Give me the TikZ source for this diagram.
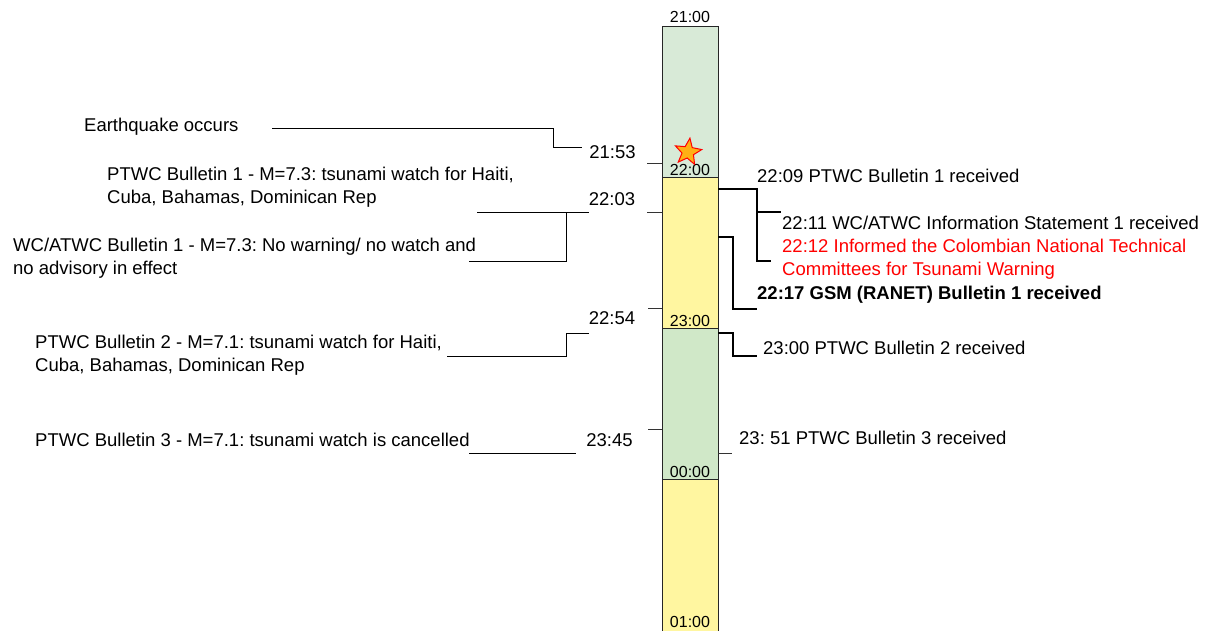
\documentclass[tikz,border=0pt]{standalone}
\usepackage{fontspec}
\setmainfont{Liberation Sans}
\usetikzlibrary{shapes.geometric}
\frenchspacing
\definecolor{gA}{RGB}{216,234,215}
\definecolor{gB}{RGB}{208,232,200}
\definecolor{yA}{RGB}{255,246,160}
\definecolor{starfill}{RGB}{255,176,20}
\tikzset{
  txt/.style={inner sep=0pt, font=\fontsize{18.5}{22.5}\selectfont, align=left, anchor=west},
  tlab/.style={inner sep=0pt, font=\fontsize{18.5}{22.5}\selectfont, anchor=center},
  hlab/.style={inner sep=0pt, font=\fontsize{16}{18}\selectfont, anchor=center},
  hourbox/.style={draw=black!85, line width=0.9pt, minimum width=56pt, inner sep=0pt, anchor=north west, minimum height=151pt},
  lcon/.style={draw=black, line width=0.95pt},
  rcon/.style={draw=black, line width=1.6pt},
  tick/.style={draw=black!80, line width=1pt}
}
\begin{document}
\frenchspacing
\begin{tikzpicture}[x=1pt,y=-1pt]
\useasboundingbox (0,0) rectangle (1213,630);
% bar
\node[hourbox, fill=gA] (h21) at (662,26) {};
\node[hourbox, fill=yA] (h22) at (662,177) {};
\node[hourbox, fill=gB] (h23) at (662,328) {};
\node[hourbox, fill=yA, minimum height=170pt] (h00) at (662,479) {};
% hour labels
\node[hlab] (l21) at (690,17) {21:00};
\node[hlab] (l22) at (690,169.5) {22:00};
\node[hlab] (l23) at (690,321) {23:00};
\node[hlab] (l00) at (690,472) {00:00};
\node[hlab] (l01) at (690,622) {01:00};
% star
\node[star, star points=5, star point ratio=2.3, minimum size=28pt, inner sep=0pt, fill=starfill, draw=red, line width=1pt, rotate=-8] (quake) at (688,152) {};
% time labels left
\node[tlab] (t2153) at (612.5,152) {21:53};
\node[tlab] (t2203) at (612,199) {22:03};
\node[tlab] (t2254) at (612,318) {22:54};
\node[tlab] (t2345) at (609.5,440) {23:45};
% left texts
\node[txt] (eq) at (84,127) {Earthquake occurs};
\node[txt] (p1) at (107,187) {PTWC Bulletin 1 - M=7.3: tsunami watch for Haiti,\\Cuba, Bahamas, Dominican Rep};
\node[txt] (w1) at (13,258) {WC/ATWC Bulletin 1 - M=7.3: No warning/ no watch and\\no advisory in effect};
\node[txt] (p2) at (35,355) {PTWC Bulletin 2 - M=7.1: tsunami watch for Haiti,\\Cuba, Bahamas, Dominican Rep};
\node[txt] (p3) at (35,440) {PTWC Bulletin 3 - M=7.1: tsunami watch is cancelled};
% right texts
\node[txt] (r2209) at (757,176) {22:09 PTWC Bulletin 1 received};
\node[txt] (r2211) at (782,223) {22:11 WC/ATWC Information Statement 1 received};
\node[txt, text=red] (r2212) at (782,259) {22:12 Informed the Colombian National Technical\\Committees for Tsunami Warning};
\node[txt, font=\fontsize{18.5}{22.5}\selectfont\bfseries] (r2217) at (757,295) {22:17 GSM (RANET) Bulletin 1 received};
\node[txt] (r2300) at (763,348) {23:00 PTWC Bulletin 2 received};
\node[txt] (r2351) at (739,438) {23: 51 PTWC Bulletin 3 received};
% coordinates
\coordinate (eqA) at (272,128);
\coordinate (eqB) at (553,128);
\coordinate (eqC) at (553,147);
\coordinate (eqD) at (582,147);
\coordinate (k2153) at (647,163);
\coordinate (k2203) at (647,212);
\coordinate (k2254) at (648,308);
\coordinate (k2345) at (648,429);
\coordinate (p1A) at (477,212);
\coordinate (p1B) at (589,212);
\coordinate (p1J) at (566,212);
\coordinate (w1B) at (566,261);
\coordinate (w1A) at (469,261);
\coordinate (p2A) at (589,333);
\coordinate (p2B) at (566,333);
\coordinate (p2C) at (566,356);
\coordinate (p2D) at (447,356);
\coordinate (p3A) at (469,453);
\coordinate (p3B) at (576,453);
\coordinate (r1A) at (718,189);
\coordinate (r1B) at (757,189);
\coordinate (r1J) at (757,212);
\coordinate (r1K) at (781,212);
\coordinate (r1C) at (757,261);
\coordinate (r1D) at (771,261);
\coordinate (r2A) at (718,237);
\coordinate (r2B) at (733,237);
\coordinate (r2C) at (733,309);
\coordinate (r2D) at (757,309);
\coordinate (r3A) at (718,333);
\coordinate (r3B) at (733,333);
\coordinate (r3C) at (733,356);
\coordinate (r3D) at (757,356);
\coordinate (r4A) at (718,453);
\coordinate (r4B) at (732,453);
% left connectors
\draw[lcon] (eqA) -- (eqB) -- (eqC) -- (eqD);
\draw[lcon] (p1A) -- (p1B);
\draw[lcon] (p1J) -- (w1B) -- (w1A);
\draw[lcon] (p2A) -- (p2B) -- (p2C) -- (p2D);
\draw[lcon] (p3A) -- (p3B);
% ticks
\draw[tick] (k2153) -- (k2153 -| h21.west);
\draw[tick] (k2203) -- (k2203 -| h22.west);
\draw[tick] (k2254) -- (k2254 -| h22.west);
\draw[tick] (k2345) -- (k2345 -| h23.west);
% right connectors
\draw[rcon] (r1A) -- (r1B) -- (r1C) -- (r1D);
\draw[rcon] (r1J) -- (r1K);
\draw[rcon] (r2A) -- (r2B) -- (r2C) -- (r2D);
\draw[rcon] (r3A) -- (r3B) -- (r3C) -- (r3D);
\draw[tick] (r4A) -- (r4B);
\end{tikzpicture}
\end{document}
